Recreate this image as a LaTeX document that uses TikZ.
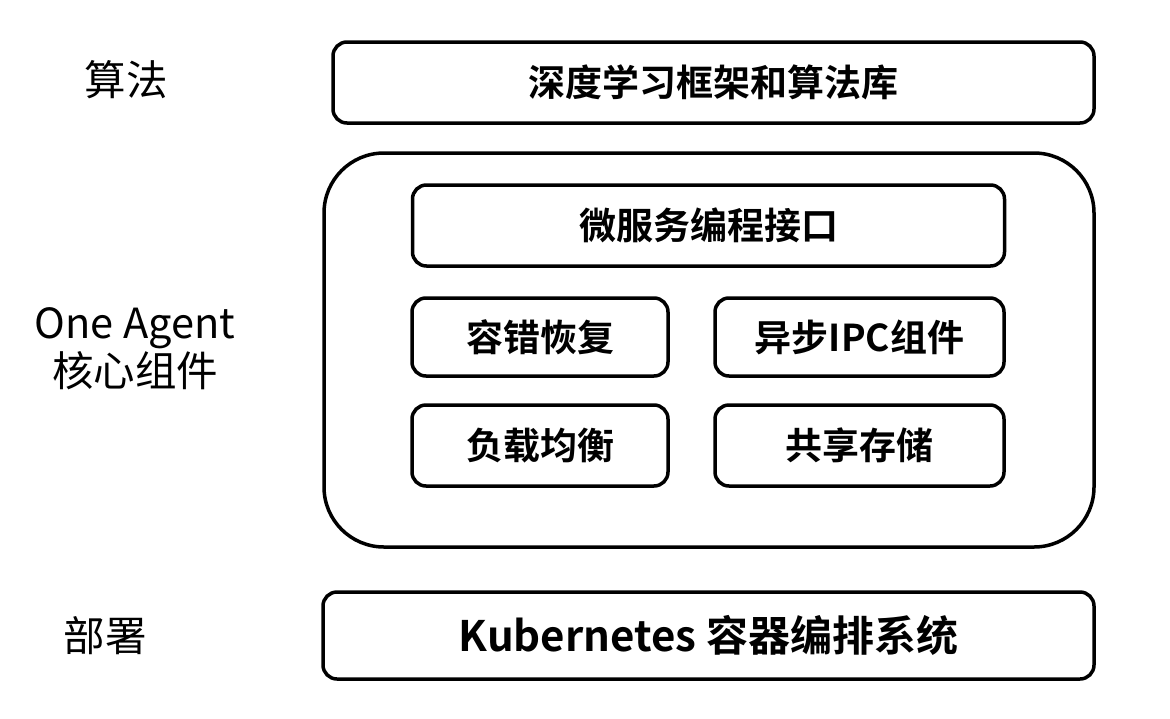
\documentclass[tikz,border=0pt]{standalone}
\usepackage{fontspec}
\setmainfont{Noto Sans CJK SC}[BoldFont=Noto Sans CJK SC Bold]
\usetikzlibrary{positioning}

\begin{document}
\begin{tikzpicture}[x=1pt,y=-1pt,
	box/.style={draw,line width=3.5pt,rounded corners=14pt,font=\fontsize{37}{40}\selectfont\bfseries,inner sep=0pt},
	side/.style={font=\fontsize{41.5}{48}\selectfont,align=center}]
	\useasboundingbox (0,0) rectangle (1170,718);

	% left labels
	\node[side] (algo) at (126,80) {算法};
	\node[side] (core) at (135,349) {One Agent\\核心组件};
	\node[side] (deploy) at (105,636) {部署};

	% layers
	\node[box,minimum width=761pt,minimum height=81pt] (lib) at (713.5,82.5) {深度学习框架和算法库};
	\draw[line width=3.5pt,rounded corners=60pt] (324,153) rectangle (1094,547);
	\node[box,minimum width=592pt,minimum height=81pt] (api) at (708.5,225.5) {微服务编程接口};
	\node[box,minimum width=256pt,minimum height=78pt] (ft) at (540,337) {容错恢复};
	\node[box,minimum width=289pt,minimum height=78pt] (ipc) at (859.5,337) {异步IPC组件};
	\node[box,minimum width=256pt,minimum height=81pt] (lb) at (540,445.5) {负载均衡};
	\node[box,minimum width=289pt,minimum height=81pt] (store) at (859.5,445.5) {共享存储};
	\node[box,minimum width=771pt,minimum height=87pt,font=\fontsize{42}{46}\selectfont\bfseries] (k8s) at (708.5,635.5) {Kubernetes 容器编排系统};

\end{tikzpicture}
\end{document}
